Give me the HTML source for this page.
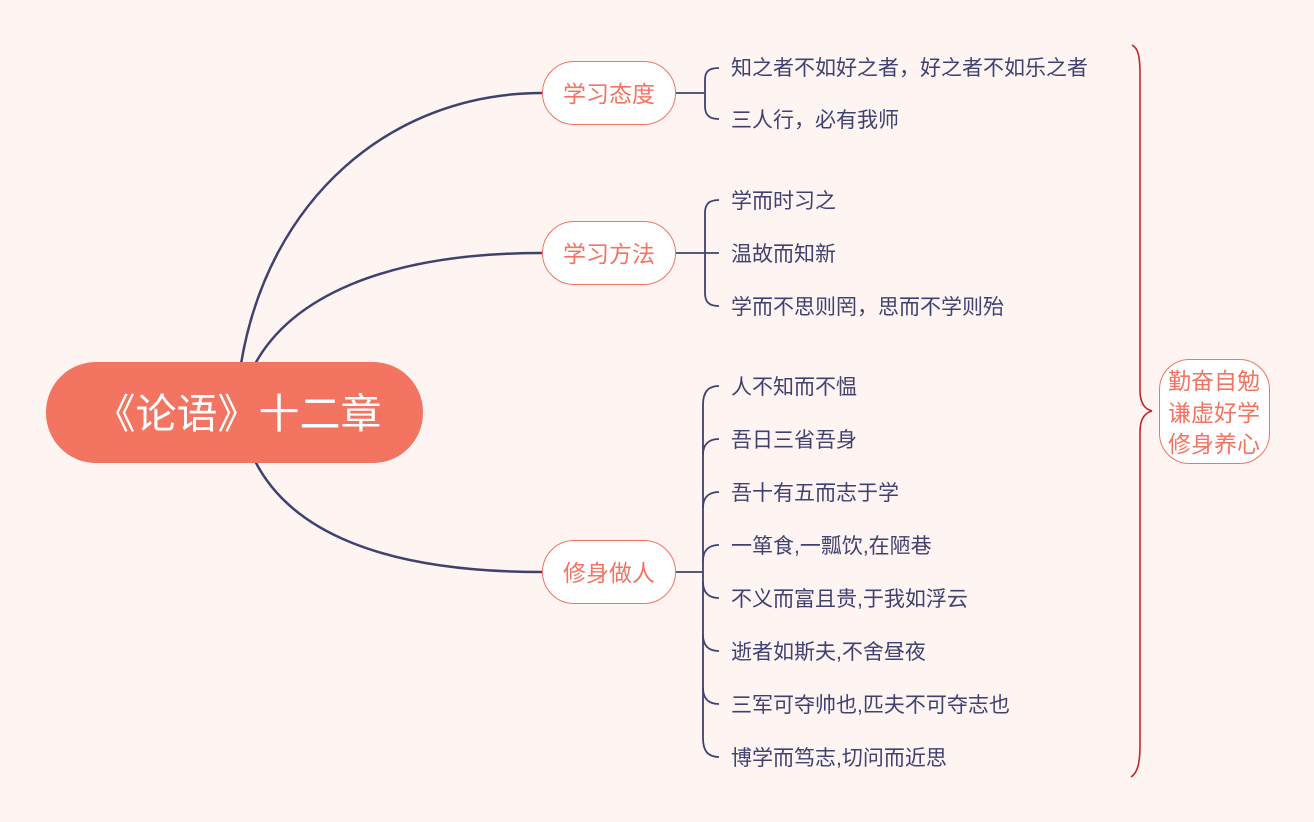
<!DOCTYPE html>
<html><head><meta charset="utf-8"><style>
html,body{margin:0;padding:0;background:#fef5f3;}
svg{display:block;}
text{font-family:"Liberation Sans","Noto Sans CJK SC",sans-serif;}
</style></head><body>
<svg width="1314" height="822" viewBox="0 0 1314 822" xmlns="http://www.w3.org/2000/svg">
<rect width="1314" height="822" fill="#fef5f3"/>
<g fill="none" stroke="#3f4170" stroke-width="2.5">
<path d="M241,364 C268,200 390,93 542,93"/>
<path d="M255,364 C290,300 380,253 542,253"/>
<path d="M255,461 C290,530 380,572 542,572"/>
</g>
<g fill="none" stroke="#3f4170" stroke-width="1.8">
<path d="M676,93 H704"/>
<path d="M719,68 C708,68 705,72 705,80 V106 C705,114 708,119 719,119"/>
<path d="M676,253 H719"/>
<path d="M719,200 C708,200 705,205 705,213 V293 C705,301 708,306 719,306"/>
<path d="M676,572 H703"/>
<path d="M719,386 C708,386 703,392 703,405 V738 C703,751 708,757 719,757"/>
<path d="M719,439 C708,439 703,445 703,455"/>
<path d="M719,492 C708,492 703,498 703,508"/>
<path d="M719,545 C708,545 703,551 703,561"/>
<path d="M719,598 C708,598 703,592 703,582"/>
<path d="M719,651 C708,651 703,645 703,635"/>
<path d="M719,704 C708,704 703,698 703,688"/>
</g>
<path d="M1132,45 C1138,48 1140,56 1140,75 V390 C1140,402 1144,409 1152,411 C1144,413 1140,420 1140,432 V745 C1140,765 1137,773 1131,777" fill="none" stroke="#c0282c" stroke-width="1.6"/>
<rect x="46" y="362" width="377" height="101" rx="50" fill="#f27461"/>
<text x="238" y="428" font-size="41" fill="#fff" text-anchor="middle">《论语》十二章</text>
<g fill="#fff" stroke="#f27461" stroke-width="1">
<rect x="542.5" y="61.5" width="133" height="63" rx="31.5"/>
<rect x="542.5" y="221.5" width="133" height="63" rx="31.5"/>
<rect x="542.5" y="540.5" width="133" height="63" rx="31.5"/>
<rect x="1159.5" y="359.5" width="110" height="104" rx="30"/>
</g>
<g font-size="23" fill="#f27461" text-anchor="middle">
<text x="609" y="102">学习态度</text>
<text x="609" y="262">学习方法</text>
<text x="609" y="581">修身做人</text>
<text x="1214" y="389">勤奋自勉</text>
<text x="1214" y="421">谦虚好学</text>
<text x="1214" y="452">修身养心</text>
</g>
<g font-size="21" fill="#3f4170">
<text x="731" y="75">知之者不如好之者，好之者不如乐之者</text>
<text x="731" y="127">三人行，必有我师</text>
<text x="731" y="208">学而时习之</text>
<text x="731" y="261">温故而知新</text>
<text x="731" y="314">学而不思则罔，思而不学则殆</text>
<text x="731" y="394">人不知而不愠</text>
<text x="731" y="447">吾日三省吾身</text>
<text x="731" y="500">吾十有五而志于学</text>
<text x="731" y="553">一箪食,一瓢饮,在陋巷</text>
<text x="731" y="606">不义而富且贵,于我如浮云</text>
<text x="731" y="659">逝者如斯夫,不舍昼夜</text>
<text x="731" y="712">三军可夺帅也,匹夫不可夺志也</text>
<text x="731" y="765">博学而笃志,切问而近思</text>
</g>
</svg>
</body></html>
